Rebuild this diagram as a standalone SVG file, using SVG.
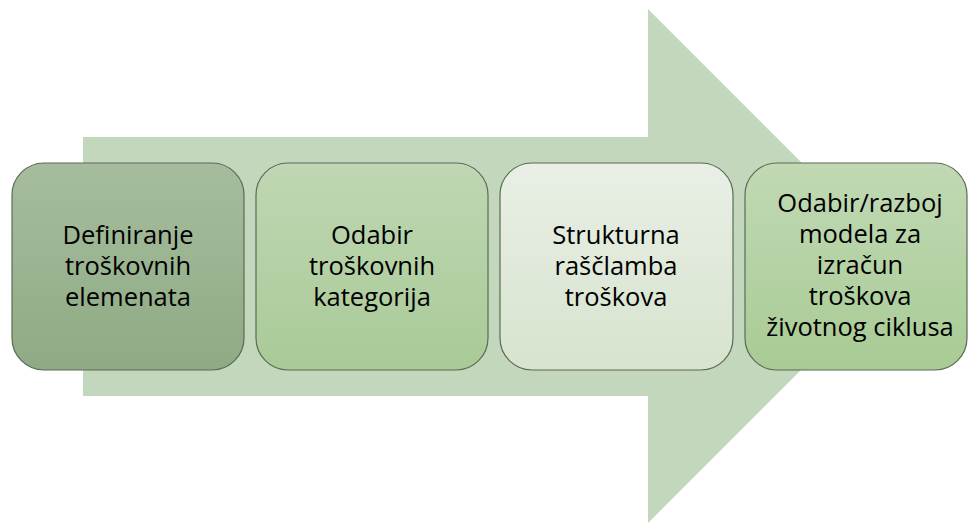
<svg xmlns="http://www.w3.org/2000/svg" width="970" height="525" viewBox="0 0 970 525">
<defs>
<linearGradient id="g1" x1="0" y1="0" x2="0" y2="1"><stop offset="0" stop-color="#a6bd9d"/><stop offset="1" stop-color="#8faa84"/></linearGradient>
<linearGradient id="g2" x1="0" y1="0" x2="0" y2="1"><stop offset="0" stop-color="#bfd7b3"/><stop offset="1" stop-color="#a9ca97"/></linearGradient>
<linearGradient id="g3" x1="0" y1="0" x2="0" y2="1"><stop offset="0" stop-color="#e9efe5"/><stop offset="1" stop-color="#d7e3ce"/></linearGradient>
<linearGradient id="g4" x1="0" y1="0" x2="0" y2="1"><stop offset="0" stop-color="#c1d9b4"/><stop offset="1" stop-color="#a8cb95"/></linearGradient>
</defs>
<style>
.box{stroke:#5b6b57;stroke-width:1.2}
.t{font-family:"Open Sans","Liberation Sans",Arial,sans-serif;font-size:25.5px;fill:#000;text-anchor:middle}
</style>
<g id="arrow">
<polygon points="83,137 648,137 648,9 905,266 648,523 648,396 83,396" fill="#c3d7bd"/>
</g>
<g id="node1">
<rect class="box" x="12" y="163" width="232" height="207" rx="32" fill="url(#g1)"/>
<text class="t" x="128" y="244">Definiranje</text>
<text class="t" x="128" y="275">troškovnih</text>
<text class="t" x="128" y="306">elemenata</text>
</g>
<g id="node2">
<rect class="box" x="256" y="163" width="232" height="207" rx="32" fill="url(#g2)"/>
<text class="t" x="372" y="244">Odabir</text>
<text class="t" x="372" y="275">troškovnih</text>
<text class="t" x="372" y="306">kategorija</text>
</g>
<g id="node3">
<rect class="box" x="500" y="163" width="233" height="207" rx="32" fill="url(#g3)"/>
<text class="t" x="616" y="244">Strukturna</text>
<text class="t" x="616" y="275">raščlamba</text>
<text class="t" x="616" y="306">troškova</text>
</g>
<g id="node4">
<rect class="box" x="745" y="163" width="222" height="207" rx="32" fill="url(#g4)"/>
<text class="t" x="860" y="212">Odabir/razboj</text>
<text class="t" x="860" y="243">modela za</text>
<text class="t" x="860" y="274">izračun</text>
<text class="t" x="860" y="305">troškova</text>
<text class="t" x="860" y="336">životnog ciklusa</text>
</g>
<g id="connectors"></g>
</svg>
